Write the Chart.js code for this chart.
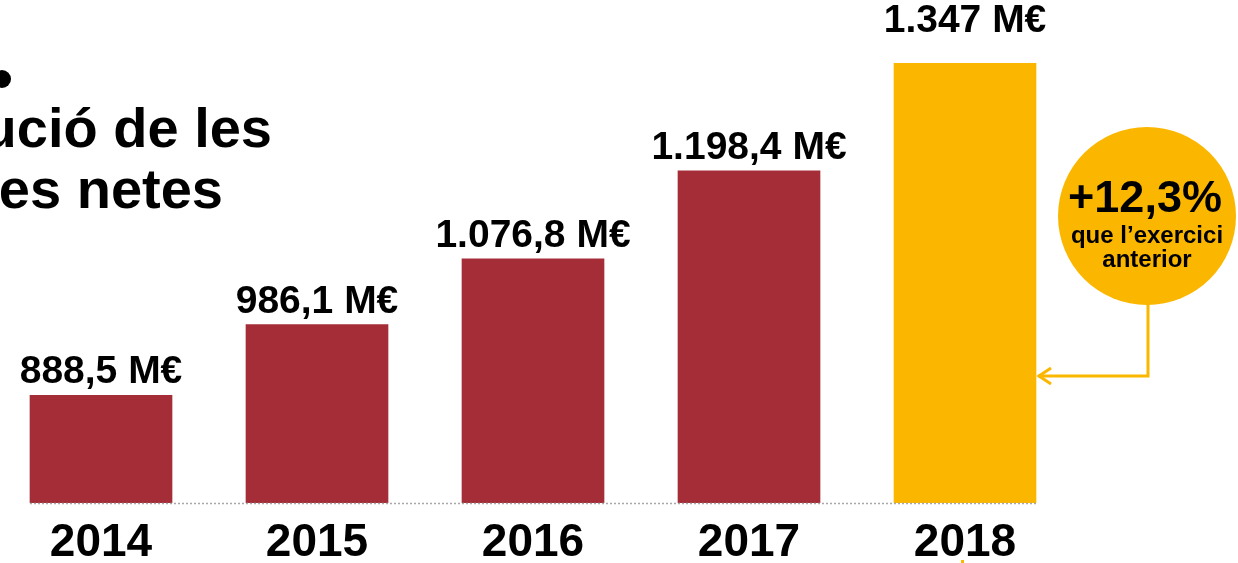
<!DOCTYPE html>
<html>
<head>
<meta charset="utf-8">
<script src="https://cdn.jsdelivr.net/npm/chart.js@4"></script>
<style>
html, body { margin: 0; padding: 0; background: #fff; overflow: hidden; }
#wrap { width: 1238px; height: 563px; position: relative; overflow: hidden; }
#inner { position: absolute; left: -7px; top: 0; width: 1245px; height: 563px; }
</style>
</head>
<body>
<div id="wrap"><div id="inner"><canvas id="vendes"></canvas></div></div>
<script>
var years = ['2014', '2015', '2016', '2017', '2018']
var sales = [888.5, 986.1, 1076.8, 1198.4, 1347] // M€
var salesText = ['888,5 M€', '986,1 M€', '1.076,8 M€', '1.198,4 M€', '1.347 M€']
var titleLines = ['Evolució de les', 'vendes netes']
var growth = '+12,3%'
var growthNote = ['que l’exercici', 'anterior']

var red = '#a52d38', yellow = '#fbb700'
var barColors = sales.map((v, i) => i == sales.length - 1 ? yellow : red)
var font = '"Liberation Sans", Arial, Helvetica, sans-serif'
var shift = 7 // canvas starts 7px left of the page

// labels over the bars, dotted base line, heading and the growth bubble
var decor = {
  id: 'decor',
  afterDatasetsDraw(chart) {
    var ctx = chart.ctx
    var bars = chart.getDatasetMeta(0).data
    var area = chart.chartArea
    var lift = [12, 12, 12, 12, 31]

    ctx.save()

    // dotted base line
    var first = bars[0], last = bars[bars.length - 1]
    ctx.strokeStyle = '#a8a8a8'
    ctx.lineWidth = 1.5
    ctx.setLineDash([2, 2])
    ctx.beginPath()
    ctx.moveTo(first.x - first.width / 2, area.bottom + 0.5)
    ctx.lineTo(last.x + last.width / 2, area.bottom + 0.5)
    ctx.stroke()
    ctx.setLineDash([])

    // value labels
    ctx.fillStyle = '#000'
    ctx.textAlign = 'center'
    ctx.textBaseline = 'alphabetic'
    ctx.font = 'bold 39px ' + font
    bars.forEach((b, i) => {
      ctx.fillText(salesText[i], b.x, b.y - lift[i])
    })

    // connector from bubble to the 2018 bar
    var tip = last.x + last.width / 2 + 2

    // the rest is laid out in page coordinates
    ctx.translate(shift, 0)
    tip -= shift

    // heading, running off the left edge
    ctx.textAlign = 'right'
    ctx.font = 'bold 56px ' + font
    ctx.fillText(titleLines[0], 272, 147)
    ctx.fillText(titleLines[1], 223, 208)
    ctx.beginPath()
    ctx.arc(2, 79, 9, 0, Math.PI * 2)
    ctx.fill()

    // growth bubble
    var cx = 1147, cy = 216, r = 89
    ctx.fillStyle = yellow
    ctx.beginPath()
    ctx.arc(cx, cy, r, 0, Math.PI * 2)
    ctx.fill()

    ctx.fillStyle = '#000'
    ctx.textAlign = 'center'
    ctx.font = 'bold 45px ' + font
    ctx.fillText(growth, cx - 2, 212)
    ctx.font = 'bold 24px ' + font
    ctx.fillText(growthNote[0], cx, 243)
    ctx.fillText(growthNote[1], cx, 267)

    ctx.strokeStyle = yellow
    ctx.lineWidth = 3
    ctx.lineJoin = 'miter'
    ctx.beginPath()
    ctx.moveTo(cx + 1, cy + r - 2)
    ctx.lineTo(cx + 1, 376)
    ctx.lineTo(tip, 376)
    ctx.stroke()
    ctx.beginPath()
    ctx.moveTo(tip + 13, 368)
    ctx.lineTo(tip + 1, 376)
    ctx.lineTo(tip + 13, 384)
    ctx.stroke()

    ctx.fillStyle = yellow
    ctx.fillRect(961, 560, 3, 3)

    ctx.restore()
  }
}

new Chart('vendes', {
  type: 'bar',
  data: {
    labels: years,
    datasets: [{
      data: sales,
      backgroundColor: barColors,
      barThickness: 142
    }]
  },
  options: {
    responsive: true,
    maintainAspectRatio: false,
    animation: false,
    layout: { padding: { left: 0, right: 165, top: 63, bottom: 0 } },
    plugins: {
      legend: { display: false },
      title: { display: false },
      tooltip: { enabled: false }
    },
    scales: {
      x: {
        grid: { display: false },
        border: { display: false },
        ticks: {
          color: '#000',
          padding: 5,
          font: { family: font, size: 46, weight: 'bold' }
        },
        afterFit: s => { s.height = 60 }
      },
      y: {
        display: false,
        min: 740,
        max: 1347
      }
    }
  },
  plugins: [decor]
})
</script>
</body>
</html>
